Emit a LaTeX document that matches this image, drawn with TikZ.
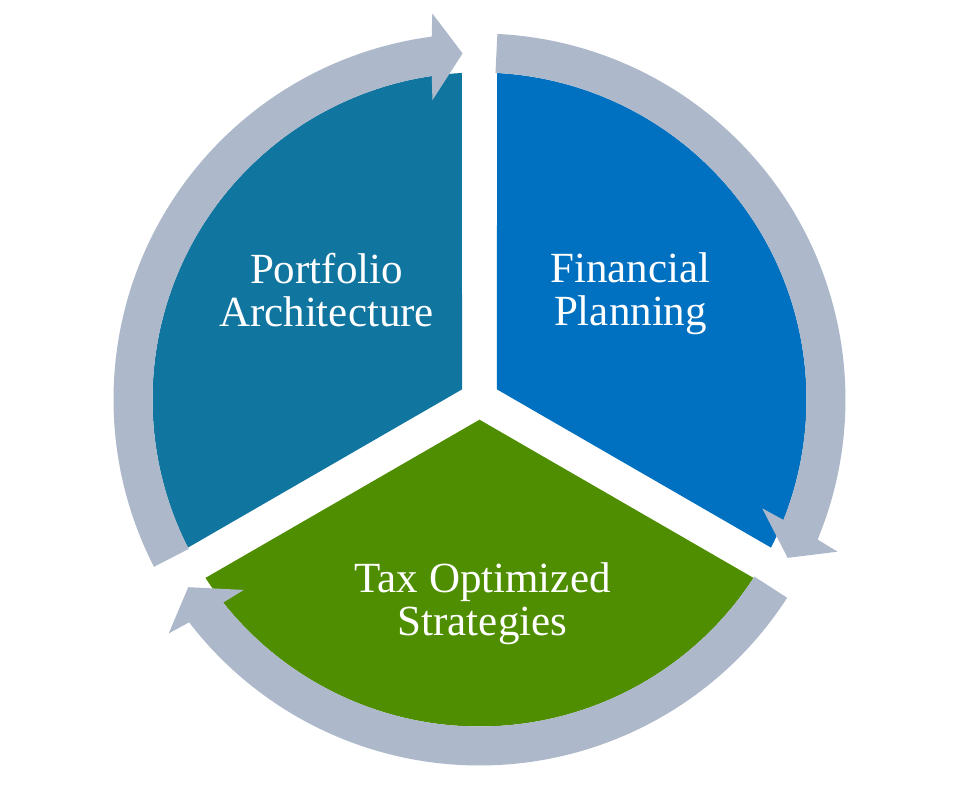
\documentclass[tikz,border=0pt]{standalone}
\usepackage{fontspec}
\setmainfont{Liberation Serif}
\definecolor{tealseg}{HTML}{10759F}
\definecolor{blueseg}{HTML}{0070C0}
\definecolor{greenseg}{HTML}{4E8E00}
\definecolor{ringgrey}{HTML}{ADB9CA}
\tikzset{
  lbl/.style={text=white, inner sep=0pt, anchor=base, font=\fontsize{43}{43}\selectfont},
  ringarrow/.style={fill=ringgrey, draw=none},
}
\begin{document}
\begin{tikzpicture}
\useasboundingbox (-479.5pt,-406.5pt) rectangle (482.5pt,399.5pt);
% sectors
\fill[tealseg] (150:20.2pt) -- (93.07:327pt) arc[start angle=93.07, end angle=206.93, radius=327pt] -- cycle;
\fill[blueseg] (30:20.2pt) -- (-26.93:327pt) arc[start angle=-26.93, end angle=86.93, radius=327pt] -- cycle;
\fill[greenseg] (270:20.2pt) -- (213.07:327pt) arc[start angle=213.07, end angle=326.93, radius=327pt] -- cycle;
% arrow 1 (left, pointing to top)
\fill[ringarrow] (207.2:366pt) arc[start angle=207.2, end angle=97.5, radius=366pt]
  -- (96.97:389pt) -- (92.8:346.5pt) -- (98.94:303pt) -- (98.39:327pt)
  arc[start angle=98.39, end angle=207.2, radius=327pt] -- cycle;
% arrow 2 (right, pointing down)
\fill[ringarrow] (87.2:366pt) arc[start angle=87.2, end angle=-22.5, radius=366pt]
  -- (-23.03:389pt) -- (-27.2:346.5pt) -- (-21.06:303pt) -- (-21.61:327pt)
  arc[start angle=-21.61, end angle=87.2, radius=327pt] -- cycle;
% arrow 3 (bottom, pointing left)
\fill[ringarrow] (-32.8:366pt) arc[start angle=-32.8, end angle=-142.5, radius=366pt]
  -- (-143.03:389pt) -- (-147.2:346.5pt) -- (-141.06:303pt) -- (-141.61:327pt)
  arc[start angle=-141.61, end angle=-32.8, radius=327pt] -- cycle;
% labels
\node[lbl] (pa1) at (-153pt,115.5pt) {Portfolio};
\node[lbl] (pa2) at (-153pt,72.5pt) {Architecture};
\node[lbl] (fp1) at (151pt,116.5pt) {Financial};
\node[lbl] (fp2) at (151pt,73.5pt) {Planning};
\node[lbl] (to1) at (3pt,-192.5pt) {Tax Optimized};
\node[lbl] (to2) at (3pt,-235.5pt) {Strategies};
\end{tikzpicture}
\end{document}
